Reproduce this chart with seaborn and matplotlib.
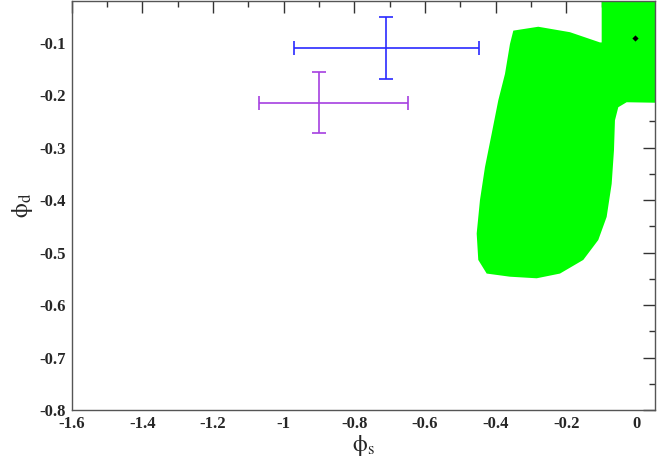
import matplotlib
matplotlib.use("Agg")
import matplotlib.pyplot as plt
import seaborn as sns
import numpy as np
import pandas as pd

# ---- data ----
# allowed region (outline of green scatter cloud), phi_s / phi_d
region_x = [-0.0999, -0.1047, -0.1896, -0.2794, -0.350, -0.3595, -0.3736, -0.3926, -0.4113,
            -0.4302, -0.4444, -0.4537, -0.4492, -0.4254, -0.3595, -0.2839, -0.2179,
            -0.152, -0.1095, -0.0858, -0.0716, -0.0651, -0.0623, -0.0529, -0.0292,
            0.10, 0.10, -0.0999]
region_y = [-0.0995, -0.0995, -0.080, -0.0696, -0.077, -0.1025, -0.1595, -0.210, -0.2736,
            -0.337, -0.400, -0.4637, -0.514, -0.540, -0.546, -0.549, -0.540,
            -0.514, -0.476, -0.432, -0.369, -0.305, -0.248, -0.223, -0.2135,
            -0.215, 0.0, 0.0]

# measurements with error bars
meas_x = [-0.7105, -0.8992]
meas_y = [-0.1107, -0.2143]
meas_xerr_lo = [0.260, 0.171]
meas_xerr_hi = [0.262, 0.251]
meas_yerr_lo = [0.059, 0.058]
meas_yerr_hi = [0.060, 0.058]
meas_color = ["#2a2aff", "#a640e0"]

# best-fit point
best_x = [-0.005]
best_y = [-0.0916]

x_ticks = [-1.6, -1.4, -1.2, -1.0, -0.8, -0.6, -0.4, -0.2, 0.0]
x_ticklabels = ["-1.6", "-1.4", "-1.2", "-1", "-0.8", "-0.6", "-0.4", "-0.2", "0"]
y_ticks = [-0.8, -0.7, -0.6, -0.5, -0.4, -0.3, -0.2, -0.1]
y_ticklabels = ["-0.8", "-0.7", "-0.6", "-0.5", "-0.4", "-0.3", "-0.2", "-0.1"]

# ---- plotting ----
sns.set_style("white")
plt.rcParams["font.family"] = ["Liberation Serif", "DejaVu Serif"]
plt.rcParams["mathtext.fontset"] = "stix"

fig = plt.figure(figsize=(6.7, 4.66), dpi=100)
ax = fig.add_axes([0.107, 0.1202, 0.8706, 0.8777])

ax.fill(region_x, region_y, color="#00ff00", lw=0, zorder=1)

for i in range(len(meas_x)):
    ax.errorbar([meas_x[i]], [meas_y[i]],
                xerr=[[meas_xerr_lo[i]], [meas_xerr_hi[i]]],
                yerr=[[meas_yerr_lo[i]], [meas_yerr_hi[i]]],
                fmt="none", ecolor=meas_color[i], elinewidth=1.2,
                capsize=4.7, capthick=1.2, zorder=3)

df_best = pd.DataFrame({"x": best_x, "y": best_y})
sns.scatterplot(data=df_best, x="x", y="y", ax=ax, color="black", marker="D",
                s=10, linewidth=0, zorder=4, legend=False)

ax.set_xlim(-1.6, 0.051)
ax.set_ylim(-0.8, -0.0205)
ax.set_xticks(x_ticks)
ax.set_xticklabels(x_ticklabels)
ax.set_yticks(y_ticks)
ax.set_yticklabels(y_ticklabels)
ax.set_xticks(np.arange(-1.5, 0.01, 0.2), minor=True)
ax.set_yticks(np.arange(-0.75, -0.02, 0.1), minor=True)
ax.tick_params(which="major", direction="in", length=8.3, width=1, top=True, right=True,
               labelsize=12, color="#333333", pad=4)
ax.tick_params(which="minor", direction="in", length=4.5, width=1, top=True, right=True,
               color="#333333")
for lab in ax.get_xticklabels() + ax.get_yticklabels():
    lab.set_fontweight("bold")
for s in ax.spines.values():
    s.set_color("#555555")
    s.set_linewidth(1.0)

ax.set_xlabel(r"$\mathrm{\phi}_\mathrm{s}$", fontsize=17, labelpad=1)
ax.set_ylabel(r"$\mathrm{\phi}_\mathrm{d}$", fontsize=17, labelpad=3)

fig.savefig("out.png", dpi=100)
